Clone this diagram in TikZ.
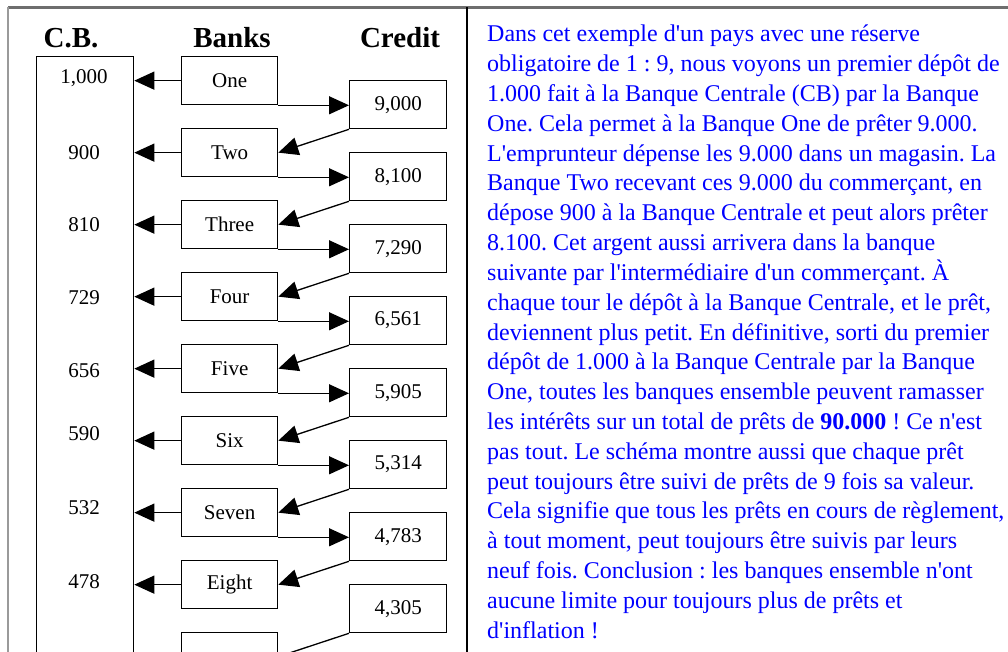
\documentclass[tikz,border=0pt]{standalone}
\usepackage{fontspec}
\setmainfont{Liberation Serif}[Ligatures=TeXOff]
\usetikzlibrary{arrows.meta}
\frenchspacing
\definecolor{txtblue}{RGB}{0,0,255}
\definecolor{framegray}{RGB}{110,110,110}
\tikzset{
  box/.style={draw=black, line width=1.3pt, rectangle, inner sep=0pt,
              minimum width=96pt, minimum height=48pt, anchor=north west,
              font=\fontsize{21}{23}\selectfont},
  cbval/.style={font=\fontsize{21}{24}\selectfont, inner sep=0pt},
  head/.style={font=\fontsize{29}{32}\selectfont\bfseries, inner sep=0pt},
  link/.style={line width=1.3pt},
  arr/.style={link, -{Triangle[length=20pt,width=18pt]}},
  para/.style={anchor=base west, inner sep=0pt, text=txtblue,
               font=\fontsize{24}{29.8}\selectfont},
}
\begin{document}
\begin{tikzpicture}[x=1pt,y=-1pt]
\useasboundingbox (0,0) rectangle (1008,652);
\fill[white] (0,0) rectangle (1008,652);
\clip (0,0) rectangle (1008,652);

% frame of the two panels
\draw[framegray, line width=2.2pt] (8,7.5) -- (1008,7.5);
\draw[framegray!70, line width=1.6pt] (8,7.5) -- (8,652);
\draw[black, line width=1.8pt] (467,7.5) -- (467,652);

% column headings
\node[head] (hcb) at (71,38) {C.B.};
\node[head] (hbk) at (232,38) {Banks};
\node[head] (hcr) at (400,38) {Credit};

% central bank column
\node[draw, line width=1.3pt, rectangle, anchor=north west, inner sep=0pt,
      minimum width=97pt, minimum height=660pt] (cb) at (36,56) {};
\node[cbval] (v1) at (84,78) {1,000};
\node[cbval] (v2) at (84,153) {900};
\node[cbval] (v3) at (84,225) {810};
\node[cbval] (v4) at (84,298) {729};
\node[cbval] (v5) at (84,371) {656};
\node[cbval] (v6) at (84,434) {590};
\node[cbval] (v7) at (84,508) {532};
\node[cbval] (v8) at (84,582) {478};

% banks
\node[box] (b1) at (181,56)  {One};
\node[box] (b2) at (181,128) {Two};
\node[box] (b3) at (181,200) {Three};
\node[box] (b4) at (181,272) {Four};
\node[box] (b5) at (181,344) {Five};
\node[box] (b6) at (181,416) {Six};
\node[box] (b7) at (181,488) {Seven};
\node[box] (b8) at (181,560) {Eight};
\node[box] (b9) at (181,632) {};

% credit granted by each bank
\node[box, minimum width=97pt] (c1) at (349,80)  {9,000};
\node[box, minimum width=97pt] (c2) at (349,152) {8,100};
\node[box, minimum width=97pt] (c3) at (349,224) {7,290};
\node[box, minimum width=97pt] (c4) at (349,296) {6,561};
\node[box, minimum width=97pt] (c5) at (349,368) {5,905};
\node[box, minimum width=97pt] (c6) at (349,440) {5,314};
\node[box, minimum width=97pt] (c7) at (349,512) {4,783};
\node[box, minimum width=97pt] (c8) at (349,584) {4,305};

% reserve deposits to the central bank
\foreach \k in {1,...,8}{
  \draw[arr] (b\k.west) -- (b\k.west -| cb.east);
}
% loans
\foreach \k in {1,...,7}{
  \draw[arr] (b\k.south east) -- (b\k.south east -| c\k.west);
}
% re-deposits in the next bank
\foreach \k/\n in {1/2,2/3,3/4,4/5,5/6,6/7,7/8}{
  \draw[arr] (c\k.south west) -- (b\n.east);
}
\draw[link] (c8.south west) -- (b9.east);

% explanation
\node[para] (l1)  at (487,42.0)  {Dans cet exemple d'un pays avec une réserve};
\node[para] (l2)  at (487,71.8)  {obligatoire de 1 : 9, nous voyons un premier dépôt de};
\node[para] (l3)  at (487,101.6) {1.000 fait à la Banque Centrale (CB) par la Banque};
\node[para] (l4)  at (487,131.4) {One. Cela permet à la Banque One de prêter 9.000.};
\node[para] (l5)  at (487,161.2) {L'emprunteur dépense les 9.000 dans un magasin. La};
\node[para] (l6)  at (487,191.0) {Banque Two recevant ces 9.000 du commerçant, en};
\node[para] (l7)  at (487,220.8) {dépose 900 à la Banque Centrale et peut alors prêter};
\node[para] (l8)  at (487,250.6) {8.100. Cet argent aussi arrivera dans la banque};
\node[para] (l9)  at (487,280.4) {suivante par l'intermédiaire d'un commerçant. À};
\node[para] (l10) at (487,310.2) {chaque tour le dépôt à la Banque Centrale, et le prêt,};
\node[para] (l11) at (487,340.0) {deviennent plus petit. En définitive, sorti du premier};
\node[para] (l12) at (487,369.8) {dépôt de 1.000 à la Banque Centrale par la Banque};
\node[para] (l13) at (487,399.6) {One, toutes les banques ensemble peuvent ramasser};
\node[para] (l14) at (487,429.4) {les intérêts sur un total de prêts de \textbf{90.000} ! Ce n'est};
\node[para] (l15) at (487,459.2) {pas tout. Le schéma montre aussi que chaque prêt};
\node[para] (l16) at (487,489.0) {peut toujours être suivi de prêts de 9 fois sa valeur.};
\node[para] (l17) at (487,518.8) {Cela signifie que tous les prêts en cours de règlement,};
\node[para] (l18) at (487,548.6) {à tout moment, peut toujours être suivis par leurs};
\node[para] (l19) at (487,578.4) {neuf fois. Conclusion : les banques ensemble n'ont};
\node[para] (l20) at (487,608.2) {aucune limite pour toujours plus de prêts et};
\node[para] (l21) at (487,638.0) {d'inflation !};
\end{tikzpicture}
\end{document}
